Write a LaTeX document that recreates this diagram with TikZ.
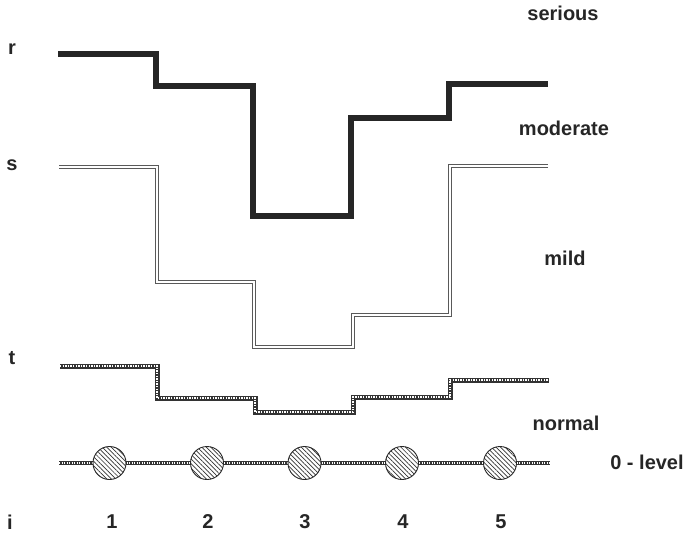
\documentclass[tikz,border=0pt]{standalone}
\usepackage{fontspec}
\setmainfont{Liberation Sans}
\usetikzlibrary{patterns.meta}
\begin{document}
\begin{tikzpicture}[x=1pt,y=-1pt,
  lbl/.style={font=\fontsize{20}{24}\selectfont\bfseries, text=black!85, inner sep=0pt, anchor=center},
  seriousline/.style={draw=black!85, line width=5.5pt, line join=miter},
  mildline/.style={draw=black!65, line width=1pt, double=white, double distance=2.6pt, line join=miter},
  dotline/.style={draw=black!80, line width=5pt, line join=miter,
    postaction={draw=white, line width=1.8pt, dash pattern=on 1.3pt off 1.3pt}},
  zeroline/.style={draw=black!80, line width=4pt,
    postaction={draw=white, line width=1.4pt, dash pattern=on 1.2pt off 1.3pt}},
  state/.style={circle, draw=black!85, line width=0.9pt, minimum size=33pt, inner sep=0pt,
    fill=white, postaction={pattern={Lines[angle=-45, distance=3.2pt, line width=0.7pt]}, pattern color=black!80}}]
\useasboundingbox (0,0) rectangle (691,535);

% level letters on the left
\node[lbl] (lr) at (12,49) {r};
\node[lbl] (ls) at (12,165) {s};
\node[lbl] (lt) at (12,358) {t};
\node[lbl] (li) at (10,522) {i};

% category names on the right
\node[lbl] (serious) at (563,13) {serious};
\node[lbl] (moderate) at (564,128) {moderate};
\node[lbl] (mild) at (565,258) {mild};
\node[lbl] (normal) at (566,423) {normal};
\node[lbl] (zero) at (647,462) {0 - level};

% thresholds r, s and t across the five positions
\draw[seriousline] (58,54) -- (156,54) -- (156,86) -- (253,86) -- (253,216)
  -- (351,216) -- (351,118) -- (449,118) -- (449,84) -- (548,84);
\draw[mildline] (59,167) -- (157,167) -- (157,282) -- (254,282) -- (254,347)
  -- (353,347) -- (353,315) -- (450,315) -- (450,166) -- (548,166);
\draw[dotline] (60,366) -- (157,366) -- (157,398) -- (255,398) -- (255,412)
  -- (353,412) -- (353,397) -- (450,397) -- (450,380) -- (549,380);

% zero level with the observed states
\coordinate (z0) at (59,463);
\coordinate (z1) at (550,463);
\draw[zeroline] (z0) -- (z1);
\foreach \k/\x in {1/109.5,2/207,3/304.5,4/402,5/500}{
  \node[state] (c\k) at (\x,463) {};
}

% position indices
\foreach \k/\x in {1/112,2/208,3/305,4/403,5/501}{
  \node[lbl] (n\k) at (\x,522) {\k};
}
\end{tikzpicture}
\end{document}
